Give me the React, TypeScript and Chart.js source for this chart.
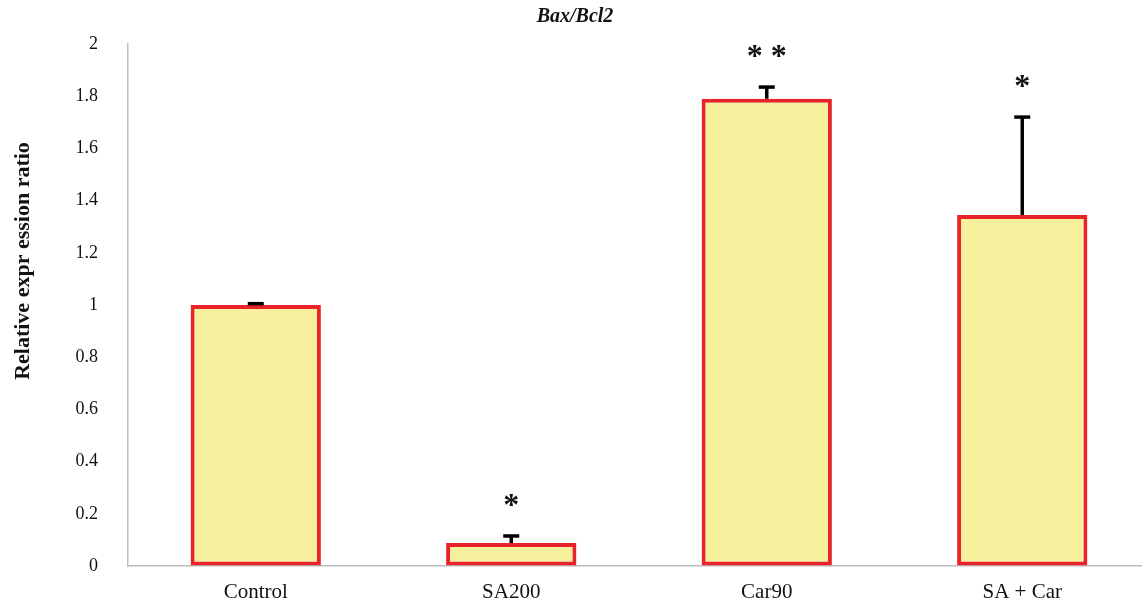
import React, { useEffect, useRef } from "react";
import { Chart, registerables } from "chart.js";

Chart.register(...registerables);

const categories = ["Control", "SA200", "Car90", "SA + Car"];
const values = [1.0, 0.088, 1.79, 1.345];
const errors = [0.005, 0.027, 0.045, 0.375];
const stars = [0, 1, 2, 1];
const yTicks = [0, 0.2, 0.4, 0.6, 0.8, 1, 1.2, 1.4, 1.6, 1.8, 2];
const yTitle = "Relative expr ession ratio";

const serif = "'Liberation Serif', 'DejaVu Serif', serif";

const overlayPlugin = {
  id: "overlay",
  afterDatasetsDraw(chart: any) {
    const ctx = chart.ctx;
    const meta = chart.getDatasetMeta(0);
    const y = chart.scales.y;
    ctx.save();
    meta.data.forEach((bar: any, i: number) => {
      const x = bar.x;
      const top = y.getPixelForValue(values[i]);
      const errTop = y.getPixelForValue(values[i] + errors[i]);
      ctx.strokeStyle = "#000";
      ctx.lineWidth = 3.5;
      ctx.beginPath();
      ctx.moveTo(x, top);
      ctx.lineTo(x, errTop);
      ctx.stroke();
      ctx.beginPath();
      ctx.moveTo(x - 8, errTop);
      ctx.lineTo(x + 8, errTop);
      ctx.stroke();
      const n = stars[i];
      ctx.fillStyle = "#111";
      ctx.font = "bold 32px " + serif;
      ctx.textAlign = "center";
      ctx.textBaseline = "alphabetic";
      for (let k = 0; k < n; k++) {
        const dx = (k - (n - 1) / 2) * 24;
        ctx.fillText("*", x + dx, errTop - 37 + 16);
      }
    });
    // y-axis title
    ctx.translate(23, 261);
    ctx.rotate(-Math.PI / 2);
    ctx.fillStyle = "#111";
    ctx.font = "bold 22px " + serif;
    ctx.textAlign = "center";
    ctx.textBaseline = "middle";
    ctx.fillText(yTitle, 0, 0);
    ctx.restore();
  },
};

export default function App() {
  const ref = useRef<HTMLCanvasElement>(null);
  useEffect(() => {
    if (!ref.current) return;
    const chart = new Chart(ref.current, {
      type: "bar",
      data: {
        labels: categories,
        datasets: [
          {
            data: values,
            backgroundColor: "#f6f09c",
            borderColor: "#e8242a",
            borderWidth: 4,
            borderSkipped: false,
            barPercentage: 0.51,
            categoryPercentage: 1,
          },
        ],
      },
      options: {
        responsive: false,
        animation: false,
        layout: { padding: 0 },
        plugins: {
          legend: { display: false },
          tooltip: { enabled: false },
          title: {
            display: true,
            text: "Bax/Bcl2",
            color: "#111",
            font: { family: serif, size: 20, weight: "bold", style: "italic" },
            padding: { top: 5, bottom: 15 },
          },
        },
        scales: {
          x: {
            grid: { display: false, drawTicks: false },
            border: { display: true, color: "#bdbdbd", width: 1.5 },
            ticks: { color: "#111", font: { family: serif, size: 21 }, padding: 14 },
            afterFit(scale: any) {
              scale.height = 38;
            },
          },
          y: {
            min: 0,
            max: 2,
            afterBuildTicks(scale: any) {
              scale.ticks = yTicks.map((v) => ({ value: v }));
            },
            grid: {
              display: true,
              drawOnChartArea: false,
              drawTicks: true,
              tickLength: 26,
              tickColor: "rgba(0,0,0,0)",
            },
            border: { display: true, color: "#bdbdbd", width: 1.5 },
            ticks: {
              color: "#111",
              font: { family: serif, size: 18 },
              padding: 4,
              callback: (v: any) => String(v),
            },
            afterFit(scale: any) {
              scale.width = 128;
            },
          },
        },
      },
      plugins: [overlayPlugin],
    });
    return () => chart.destroy();
  }, []);
  return (
    <div style={{ position: "fixed", left: 0, top: 0, width: 1142, height: 604, overflow: "hidden", background: "#fff" }}>
      <canvas ref={ref} width={1150} height={604} style={{ display: "block", width: 1150, height: 604 }} />
    </div>
  );
}
